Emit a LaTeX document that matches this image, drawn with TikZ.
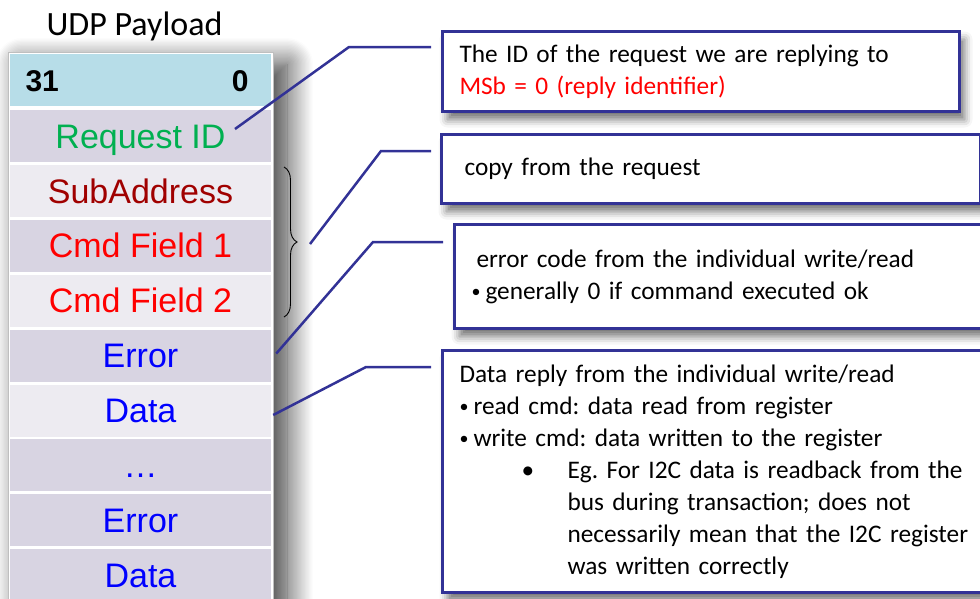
\documentclass[tikz,border=0pt]{standalone}
\usepackage{fontspec}
\setmainfont{Carlito}
\newfontfamily\arialfont{Liberation Sans}
\usetikzlibrary{calc,decorations.pathreplacing,shadows.blur}
\definecolor{hdrblue}{RGB}{183,221,232}
\definecolor{rowdark}{RGB}{216,212,226}
\definecolor{rowlight}{RGB}{237,235,241}
\definecolor{idgreen}{RGB}{0,176,80}
\definecolor{subred}{RGB}{160,0,0}
\definecolor{linkblue}{RGB}{50,50,150}
\newcommand{\nbul}{\makebox[14pt][l]{\fontsize{18}{18}\selectfont\raisebox{2pt}{•}}}
\frenchspacing

\begin{document}
\begin{tikzpicture}[x=1pt,y=-1pt,
	row/.style={minimum width=261pt,minimum height=52pt,inner sep=0pt,font=\arialfont\fontsize{34}{34}\selectfont,text height=24.3pt,text depth=0pt},
	note/.style={draw=linkblue,line width=3pt,fill=white,anchor=north west,align=left,font=\fontsize{25.3}{32}\selectfont,
		blur shadow={shadow xshift=5pt,shadow yshift=-8pt,shadow blur radius=8pt,shadow opacity=55}},
	link/.style={linkblue,line width=2.5pt}]
	\useasboundingbox (0,0) rectangle (980,598);
	\clip (0,0) rectangle (980,598);
	%TABLE
	\node[anchor=base,font=\fontsize{34}{34}\selectfont] (title) at (134.5,35) {UDP Payload};
	\path[draw=black!25,fill=white,blur shadow={shadow xshift=14pt,shadow yshift=-12pt,shadow blur radius=26pt,shadow blur steps=20,shadow opacity=80}] (8,52) rectangle (273,640);
	\node[row,fill=hdrblue] (hdr) at (140.5,80) {};
	\node[anchor=base west,font=\arialfont\bfseries\fontsize{30}{30}\selectfont] (msb) at (22,91) {31};
	\node[anchor=base east,font=\arialfont\bfseries\fontsize{30}{30}\selectfont] (lsb) at (252,91) {0};
	\foreach \lbl/\fc/\tc [count=\i] in {Request ID/rowdark/idgreen,SubAddress/rowlight/subred,Cmd Field 1/rowdark/red,Cmd Field 2/rowlight/red,Error/rowdark/blue,Data/rowlight/blue,…/rowdark/blue,Error/rowdark/blue,Data/rowdark/blue}
		\node[row,fill=\fc,text=\tc] (r\i) at (140.5,{136+(\i-1)*54.9}) {\lbl};
	\draw[decorate,decoration={brace,amplitude=13pt},line width=0.9pt] (284,167) -- (284,317);
	
	%NOTES
	\node[note,minimum width=517pt,minimum height=80pt,inner xsep=17pt,text width=483pt] (nid) at (441,30)
		{The ID of the request we are replying to\\ \textcolor{red}{MSb = 0 (reply identifier)}};
	\node[note,minimum width=539pt,minimum height=69pt,inner xsep=23pt,text width=493pt] (ncopy) at (440,133)
		{copy from the request};
	\node[note,minimum width=600pt,minimum height=104pt,inner xsep=22pt,text width=556pt] (nerr) at (453,223)
		{error code from the individual write/read\\ \hspace*{-5pt}\nbul generally 0 if command executed ok};
	\node[note,minimum width=600pt,minimum height=242pt,inner xsep=17pt,text width=566pt] (ndata) at (441,349)
		{Data reply from the individual write/read\\
		\nbul read cmd: data read from register\\
		\nbul write cmd: data written to the register\\
		\hspace*{62pt}\makebox[46pt][l]{•}Eg. For I2C data is readback from the\\
		\hspace*{108pt}bus during transaction; does not\\
		\hspace*{108pt}necessarily mean that the I2C register\\
		\hspace*{108pt}was written correctly};
	
	%LINKS
	\coordinate (brtip) at (310,244);
	\coordinate (k1) at (349,47);
	\coordinate (k2) at (381,151);
	\coordinate (k3) at (373,242);
	\coordinate (k4) at (366,367);
	\draw[link] ($(r1.center)+(94.5,-7)$) -- (k1) -- ($(k1 -| nid.west)+(-10,0)$);
	\draw[link] (brtip) -- (k2) -- ($(k2 -| ncopy.west)+(-9,0)$);
	\draw[link] ($(r5.east)+(5,-2)$) -- (k3) -- ($(k3 -| nerr.west)+(-10,0)$);
	\draw[link] ($(r6.east)+(2,4.5)$) -- (k4) -- ($(k4 -| ndata.west)+(-10,0)$);
\end{tikzpicture}
\end{document}
